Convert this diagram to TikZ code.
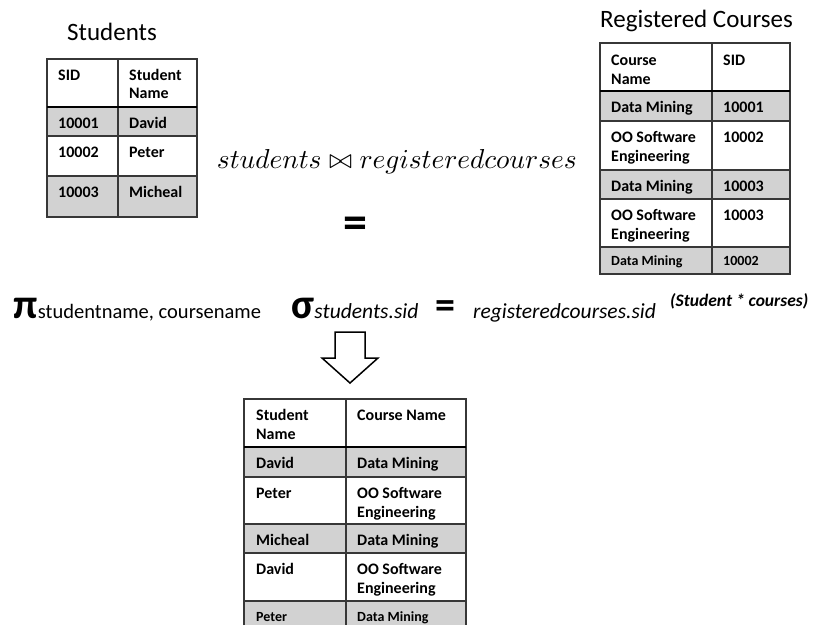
\documentclass[tikz,border=0pt]{standalone}
\usepackage{graphicx}
\usepackage{fontspec}
\setmainfont{Carlito}
\definecolor{rowgray}{RGB}{210,210,210}
\definecolor{gridline}{RGB}{55,55,55}
\begin{document}
\begin{tikzpicture}[x=1pt,y=-1pt,
  cell/.style={anchor=base west,inner sep=0pt,font=\bfseries\fontsize{16}{19}\selectfont},
  smallcell/.style={anchor=base west,inner sep=0pt,font=\bfseries\fontsize{14}{17}\selectfont},
  title/.style={anchor=base west,inner sep=0pt,font=\fontsize{25}{29}\selectfont},
  grid/.style={draw=gridline,line width=1.2pt},
  headrule/.style={draw=black,line width=2.4pt},
  band/.style={fill=rowgray},
  expr/.style={anchor=base west,inner sep=0pt}]
\useasboundingbox (0,0) rectangle (818,625);

% ---------- Students ----------
\node[title] (sttitle) at (67,40) {Students};
\fill[band] (47,107) rectangle (197,136);
\fill[band] (47,176) rectangle (197,217);
\draw[grid] (47,59) rectangle (197,217);
\draw[grid] (118,59) -- (118,217);
\draw[grid] (47,136) -- (197,136);
\draw[grid] (47,176) -- (197,176);
\draw[headrule] (47,107) -- (197,107);
\node[cell] (s11) at (58,80) {SID};
\node[cell] (s12) at (129,80) {Student};
\node[cell] (s12b) at (129,98) {Name};
\node[cell] (s21) at (58,128) {10001};
\node[cell] (s22) at (129,128) {David};
\node[cell] (s31) at (58,157) {10002};
\node[cell] (s32) at (129,157) {Peter};
\node[cell] (s41) at (58,197) {10003};
\node[cell] (s42) at (129,197) {Micheal};

% ---------- Registered Courses ----------
\node[title] (rctitle) at (600,27) {Registered Courses};
\fill[band] (600,91) rectangle (790,121);
\fill[band] (600,170) rectangle (790,199);
\fill[band] (600,247) rectangle (790,274);
\draw[grid] (600,43) rectangle (790,274);
\draw[grid] (712,43) -- (712,274);
\draw[grid] (600,121) -- (790,121);
\draw[grid] (600,170) -- (790,170);
\draw[grid] (600,199) -- (790,199);
\draw[grid] (600,247) -- (790,247);
\draw[headrule] (600,91) -- (790,91);
\node[cell] (r11) at (611,65) {Course};
\node[cell] (r11b) at (611,84) {Name};
\node[cell] (r12) at (723,65) {SID};
\node[cell] (r21) at (611,112) {Data Mining};
\node[cell] (r22) at (723,112) {10001};
\node[cell] (r31) at (611,142) {OO Software};
\node[cell] (r31b) at (611,161) {Engineering};
\node[cell] (r32) at (723,142) {10002};
\node[cell] (r41) at (611,191) {Data Mining};
\node[cell] (r42) at (723,191) {10003};
\node[cell] (r51) at (611,220) {OO Software};
\node[cell] (r51b) at (611,239) {Engineering};
\node[cell] (r52) at (723,220) {10003};
\node[smallcell] (r61) at (611,265) {Data Mining};
\node[smallcell] (r62) at (723,265) {10002};

% ---------- natural join ----------
\node[anchor=base,inner sep=0pt] (join) at (397,168)
  {\resizebox{360pt}{!}{$students \bowtie registeredcourses$}};
\node[anchor=base,inner sep=0pt,font=\bfseries\fontsize{48}{52}\selectfont] (eq) at (355,238) {=};

% ---------- relational algebra expression ----------
\node[expr,font=\bfseries\fontsize{42}{44}\selectfont] (pi) at (13,318) {π};
\node[expr,font=\fontsize{20.5}{24}\selectfont] (proj) at (pi.base east) {studentname, coursename};
\node[expr,font=\bfseries\fontsize{42}{44}\selectfont] (sigma) at (291,318) {σ};
\node[expr,font=\itshape\fontsize{21.5}{24}\selectfont] (cond1) at (sigma.base east) {students.sid};
\node[expr,font=\bfseries\fontsize{40}{44}\selectfont] (eq2) at (435,318) {=};
\node[expr,font=\itshape\fontsize{21.5}{24}\selectfont] (cond2) at (473,318) {registeredcourses.sid};
\node[expr,font=\bfseries\itshape\fontsize{17.5}{20}\selectfont] (arg) at (670,306) {(Student * courses)};

% ---------- block arrow ----------
\coordinate (a1) at (335,332);
\coordinate (a2) at (365,332);
\draw[line width=1.5pt,line join=miter] (a1) -- (a2) -- (365,358) -- (378,358) -- (350,383)
  -- (322,358) -- (335,358) -- cycle;

% ---------- result ----------
\fill[band] (244,447) rectangle (466,477);
\fill[band] (244,524) rectangle (466,553);
\fill[band] (244,601) rectangle (466,625);
\draw[grid] (244,625) -- (244,399) -- (466,399) -- (466,625);
\draw[grid] (346,399) -- (346,625);
\draw[grid] (244,477) -- (466,477);
\draw[grid] (244,524) -- (466,524);
\draw[grid] (244,553) -- (466,553);
\draw[grid] (244,601) -- (466,601);
\draw[headrule] (244,447) -- (466,447);
\node[cell] (p11) at (256,420) {Student};
\node[cell] (p11b) at (256,439) {Name};
\node[cell] (p12) at (357,420) {Course Name};
\node[cell] (p21) at (256,468) {David};
\node[cell] (p22) at (357,468) {Data Mining};
\node[cell] (p31) at (256,498) {Peter};
\node[cell] (p32) at (357,498) {OO Software};
\node[cell] (p32b) at (357,517) {Engineering};
\node[cell] (p41) at (256,545) {Micheal};
\node[cell] (p42) at (357,545) {Data Mining};
\node[cell] (p51) at (256,574) {David};
\node[cell] (p52) at (357,574) {OO Software};
\node[cell] (p52b) at (357,593) {Engineering};
\node[smallcell] (p61) at (256,621) {Peter};
\node[smallcell] (p62) at (357,621) {Data Mining};
\end{tikzpicture}
\end{document}
